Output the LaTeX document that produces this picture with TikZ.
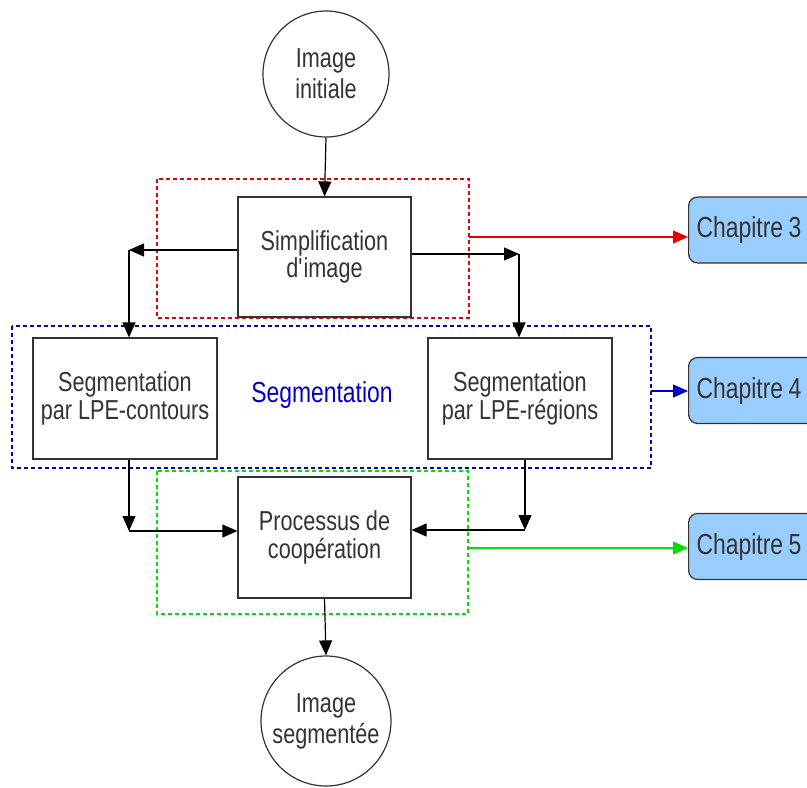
\documentclass[tikz,border=0pt]{standalone}
\usepackage{fontspec}
\setmainfont{Liberation Sans}[FakeStretch=0.79]
\usetikzlibrary{arrows.meta}
\definecolor{txt}{RGB}{51,51,51}
\definecolor{chapfill}{RGB}{153,204,255}
\definecolor{dred}{RGB}{230,0,0}
\definecolor{dblue}{RGB}{0,0,200}
\definecolor{dgreen}{RGB}{0,225,0}
\begin{document}
\begin{tikzpicture}[x=1pt,y=-1pt,
  every node/.style={text=txt,font=\fontsize{27.4}{28.5}\selectfont,align=center,inner sep=0pt},
  procbox/.style={draw=txt,line width=1.2pt,fill=white,minimum width=173pt,minimum height=120pt},
  segbox/.style={draw=txt,line width=1.2pt,fill=white,minimum width=184pt,minimum height=121pt},
  imgcircle/.style={draw=txt,line width=1.2pt,circle,fill=white,font=\fontsize{27.4}{31}\selectfont},
  chapbox/.style={draw=txt,line width=1.2pt,fill=chapfill,rounded corners=9pt,minimum width=132pt,minimum height=66pt,anchor=west,text width=120pt,align=left,font=\fontsize{29}{27}\selectfont},
  groupbox/.style={line width=2.6pt,dash pattern=on 4pt off 3pt},
  arr/.style={draw=black,line width=1.2pt,-{Triangle[length=15pt,width=13pt]}},
  link/.style={line width=1.3pt,-{Triangle[length=15pt,width=13pt]}}
]
\useasboundingbox (0,0) rectangle (807,788);
\clip (0,0) rectangle (807,788);

% group boxes
\draw[groupbox,dred] (157,179) rectangle (469,318);
\coordinate (redE) at (469,237);
\draw[groupbox,dblue] (12,326) rectangle (651,468);
\coordinate (blueE) at (651,391);
\draw[groupbox,dgreen] (157,471) rectangle (468,614);
\coordinate (greenE) at (468,548);

% nodes
\node[imgcircle,minimum size=126pt] (init) at (326,74) {Image\\initiale};
\node[procbox,font=\fontsize{27.4}{26.5}\selectfont] (simp) at (324.5,257) {Simplification\\d\textquotesingle image};
\node[segbox] (cont) at (125,398.5) {Segmentation\\par LPE-contours};
\node[segbox] (reg) at (520,398.5) {Segmentation\\par LPE-régions};
\node[text=dblue,font=\fontsize{29}{27}\selectfont] (seglbl) at (322,395) {Segmentation};
\node[procbox,minimum height=121pt] (coop) at (324.5,537.5) {Processus de\\coopération};
\node[imgcircle,minimum size=130pt] (final) at (326,721) {Image\\segmentée};

\node[chapbox] (c3) at (688,230) {\hspace*{2pt}Chapitre\hspace{5.5pt}3};
\node[chapbox] (c4) at (688,390.5) {\hspace*{2pt}Chapitre\hspace{5.5pt}4};
\node[chapbox] (c5) at (688,546.5) {\hspace*{2pt}Chapitre\hspace{5.5pt}5};

% junction points
\coordinate (jl) at (129,250);
\coordinate (jr) at (519,254);
\coordinate (jbl) at (129,531);
\coordinate (jbr) at (525,530);

% black connectors
\draw[arr] (init.south) -- (simp.north);
\draw[arr] (simp.west |- jl) -- (jl);
\draw[arr] (jl) -- (cont.north -| jl);
\draw[arr] (simp.east |- jr) -- (jr);
\draw[arr] (jr) -- (reg.north -| jr);
\draw[arr] (cont.south -| jbl) -- (jbl);
\draw[arr] (jbl) -- (coop.west |- jbl);
\draw[arr] (reg.south -| jbr) -- (jbr);
\draw[arr] (jbr) -- (coop.east |- jbr);
\draw[arr] (coop.south) -- (final.north);

% coloured links to chapters
\draw[link,draw=dred,fill=dred] (redE) -- (c3.west |- redE);
\draw[link,draw=dblue,fill=dblue] (blueE) -- (c4.west |- blueE);
\draw[link,draw=dgreen,fill=dgreen] (greenE) -- (c5.west |- greenE);
\end{tikzpicture}
\end{document}
